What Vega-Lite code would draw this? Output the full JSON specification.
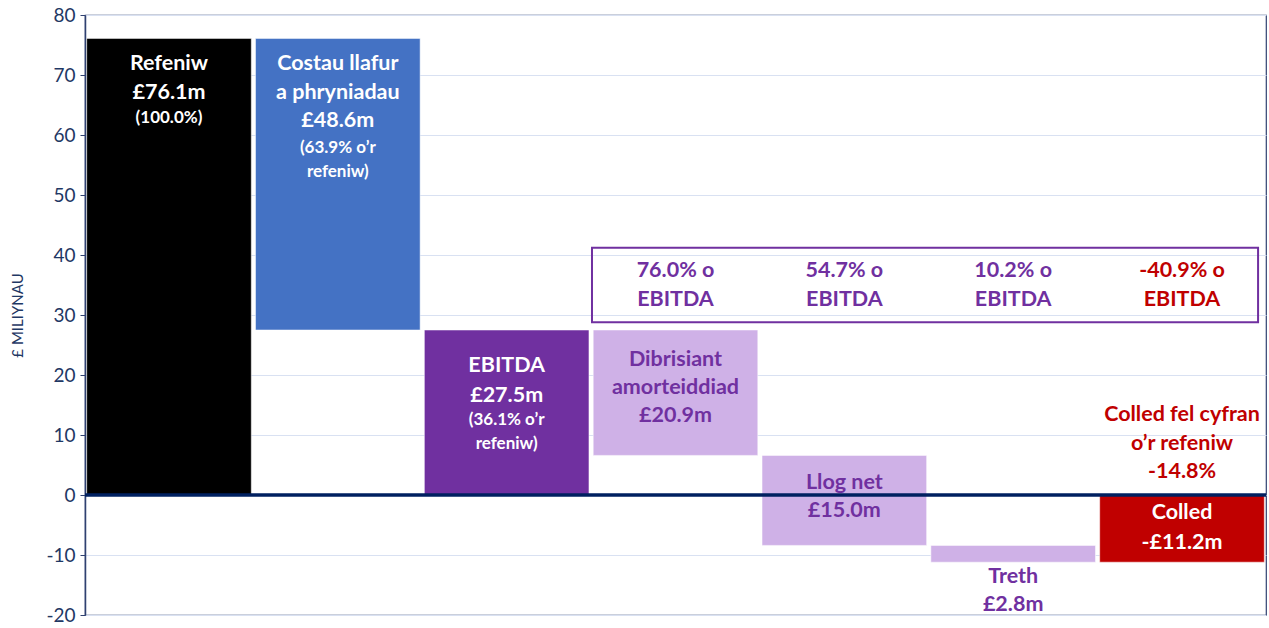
{
  "$schema": "https://vega.github.io/schema/vega-lite/v6.json",
  "width": 1181,
  "height": 600,
  "autosize": {"type": "none"},
  "padding": {"left": 85, "top": 15, "right": 3, "bottom": 13},
  "background": "white",
  "config": {
    "view": {"stroke": "#2F4170", "strokeWidth": 1.2},
    "font": "Lato",
    "text": {"font": "Lato", "fontWeight": "bold"}
  },
  "datasets": {
    "bars": [
      {"cat": "Refeniw", "lo": 0, "hi": 76.1, "kind": "Refeniw"},
      {"cat": "Costau", "lo": 27.5, "hi": 76.1, "kind": "Costau"},
      {"cat": "EBITDA", "lo": 0, "hi": 27.5, "kind": "EBITDA"},
      {"cat": "Dibrisiant", "lo": 6.6, "hi": 27.5, "kind": "Cost"},
      {"cat": "Llog", "lo": -8.4, "hi": 6.6, "kind": "Cost"},
      {"cat": "Treth", "lo": -11.2, "hi": -8.4, "kind": "Cost"},
      {"cat": "Colled", "lo": -11.2, "hi": 0, "kind": "Colled"}
    ],
    "labels": [
      {"cat": "Refeniw", "y": 71.8, "txt": "Refeniw", "tone": "white", "tier": "main"},
      {"cat": "Refeniw", "y": 67.0, "txt": "£76.1m", "tone": "white", "tier": "main"},
      {"cat": "Refeniw", "y": 62.8, "txt": "(100.0%)", "tone": "white", "tier": "note"},
      {"cat": "Costau", "y": 71.8, "txt": "Costau llafur", "tone": "white", "tier": "main"},
      {"cat": "Costau", "y": 67.0, "txt": "a phryniadau", "tone": "white", "tier": "main"},
      {"cat": "Costau", "y": 62.3, "txt": "£48.6m", "tone": "white", "tier": "main"},
      {"cat": "Costau", "y": 57.8, "txt": "(63.9% o’r", "tone": "white", "tier": "note"},
      {"cat": "Costau", "y": 53.8, "txt": "refeniw)", "tone": "white", "tier": "note"},
      {"cat": "EBITDA", "y": 21.5, "txt": "EBITDA", "tone": "white", "tier": "main"},
      {"cat": "EBITDA", "y": 16.5, "txt": "£27.5m", "tone": "white", "tier": "main"},
      {"cat": "EBITDA", "y": 12.5, "txt": "(36.1% o’r", "tone": "white", "tier": "note"},
      {"cat": "EBITDA", "y": 8.5, "txt": "refeniw)", "tone": "white", "tier": "note"},
      {"cat": "Dibrisiant", "y": 22.5, "txt": "Dibrisiant", "tone": "purple", "tier": "main"},
      {"cat": "Dibrisiant", "y": 17.8, "txt": "amorteiddiad", "tone": "purple", "tier": "main"},
      {"cat": "Dibrisiant", "y": 13.2, "txt": "£20.9m", "tone": "purple", "tier": "main"},
      {"cat": "Llog", "y": 2.0, "txt": "Llog net", "tone": "purple", "tier": "main"},
      {"cat": "Llog", "y": -2.7, "txt": "£15.0m", "tone": "purple", "tier": "main"},
      {"cat": "Treth", "y": -13.7, "txt": "Treth", "tone": "purple", "tier": "main"},
      {"cat": "Treth", "y": -18.3, "txt": "£2.8m", "tone": "purple", "tier": "main"},
      {"cat": "Colled", "y": -3.0, "txt": "Colled", "tone": "white", "tier": "main"},
      {"cat": "Colled", "y": -8.0, "txt": "-£11.2m", "tone": "white", "tier": "main"},
      {"cat": "Colled", "y": 13.3, "txt": "Colled fel cyfran", "tone": "red", "tier": "main"},
      {"cat": "Colled", "y": 8.5, "txt": "o’r refeniw", "tone": "red", "tier": "main"},
      {"cat": "Colled", "y": 3.8, "txt": "-14.8%", "tone": "red", "tier": "main"},
      {"cat": "Dibrisiant", "y": 37.3, "txt": "76.0% o", "tone": "purple", "tier": "main"},
      {"cat": "Dibrisiant", "y": 32.5, "txt": "EBITDA", "tone": "purple", "tier": "main"},
      {"cat": "Llog", "y": 37.3, "txt": "54.7% o", "tone": "purple", "tier": "main"},
      {"cat": "Llog", "y": 32.5, "txt": "EBITDA", "tone": "purple", "tier": "main"},
      {"cat": "Treth", "y": 37.3, "txt": "10.2% o", "tone": "purple", "tier": "main"},
      {"cat": "Treth", "y": 32.5, "txt": "EBITDA", "tone": "purple", "tier": "main"},
      {"cat": "Colled", "y": 37.3, "txt": "-40.9% o", "tone": "red", "tier": "main"},
      {"cat": "Colled", "y": 32.5, "txt": "EBITDA", "tone": "red", "tier": "main"}
    ],
    "box": [{"x0": 3.505, "x1": 7.453, "y0": 28.8, "y1": 41.2}],
    "zero": [{"v": 0}]
  },
  "layer": [
    {
      "layer": [
        {
          "data": {"name": "bars"},
          "mark": {"type": "bar", "stroke": "#FFFFFF", "strokeOpacity": 0.5, "strokeWidth": 1},
          "encoding": {
            "x": {"field": "cat", "type": "nominal", "sort": null,
                  "scale": {"domain": ["Refeniw", "Costau", "EBITDA", "Dibrisiant", "Llog", "Treth", "Colled"], "paddingInner": 0.025, "paddingOuter": 0.01},
                  "axis": null},
            "y": {"field": "lo", "type": "quantitative",
                  "scale": {"domain": [-20, 80], "nice": false, "zero": false},
                  "axis": {"values": [-20, -10, 0, 10, 20, 30, 40, 50, 60, 70, 80],
                           "labelExpr": "replace(datum.label, '−', '-')",
                           "title": "£ MILIYNAU", "titleFont": "Lato", "titleFontSize": 15, "titleFontWeight": "normal",
                           "titleColor": "#1F3864", "titlePadding": 20,
                           "labelFont": "Lato", "labelFontSize": 19, "labelColor": "#1F3864", "labelPadding": 5,
                           "tickColor": "#2F4170", "tickSize": 5, "domainColor": "#2F4170", "domainWidth": 1.5,
                           "gridColor": "#D9E1F2", "gridWidth": 1}},
            "y2": {"field": "hi"},
            "color": {"field": "kind", "type": "nominal",
                      "scale": {"domain": ["Refeniw", "Costau", "EBITDA", "Cost", "Colled"],
                                "range": ["#000000", "#4472C4", "#7030A0", "#CFB1E7", "#C00000"]},
                      "legend": null}
          }
        },
        {
          "data": {"name": "zero"},
          "mark": {"type": "rule", "color": "#002060", "strokeWidth": 3.5},
          "encoding": {"y": {"field": "v", "type": "quantitative"}}
        },
        {
          "data": {"name": "labels"},
          "mark": {"type": "text", "baseline": "middle", "align": "center"},
          "encoding": {
            "x": {"field": "cat", "type": "nominal", "sort": null, "axis": null},
            "y": {"field": "y", "type": "quantitative"},
            "text": {"field": "txt"},
            "color": {"field": "tone", "type": "nominal",
                      "scale": {"domain": ["white", "purple", "red"], "range": ["#FFFFFF", "#7030A0", "#C00000"]},
                      "legend": null},
            "size": {"field": "tier", "type": "ordinal",
                     "scale": {"domain": ["main", "note"], "range": [21.5, 17]},
                     "legend": null}
          }
        }
      ],
      "resolve": {"scale": {"color": "independent"}}
    },
    {
      "data": {"name": "box"},
      "mark": {"type": "rect", "fill": null, "filled": false, "stroke": "#7030A0", "strokeWidth": 2},
      "encoding": {
        "x": {"field": "x0", "type": "quantitative", "scale": {"domain": [0.5, 7.5], "nice": false, "zero": false}, "axis": null},
        "x2": {"field": "x1"},
        "y": {"field": "y0", "type": "quantitative"},
        "y2": {"field": "y1"}
      }
    }
  ],
  "resolve": {"scale": {"x": "independent", "color": "independent"}}
}
